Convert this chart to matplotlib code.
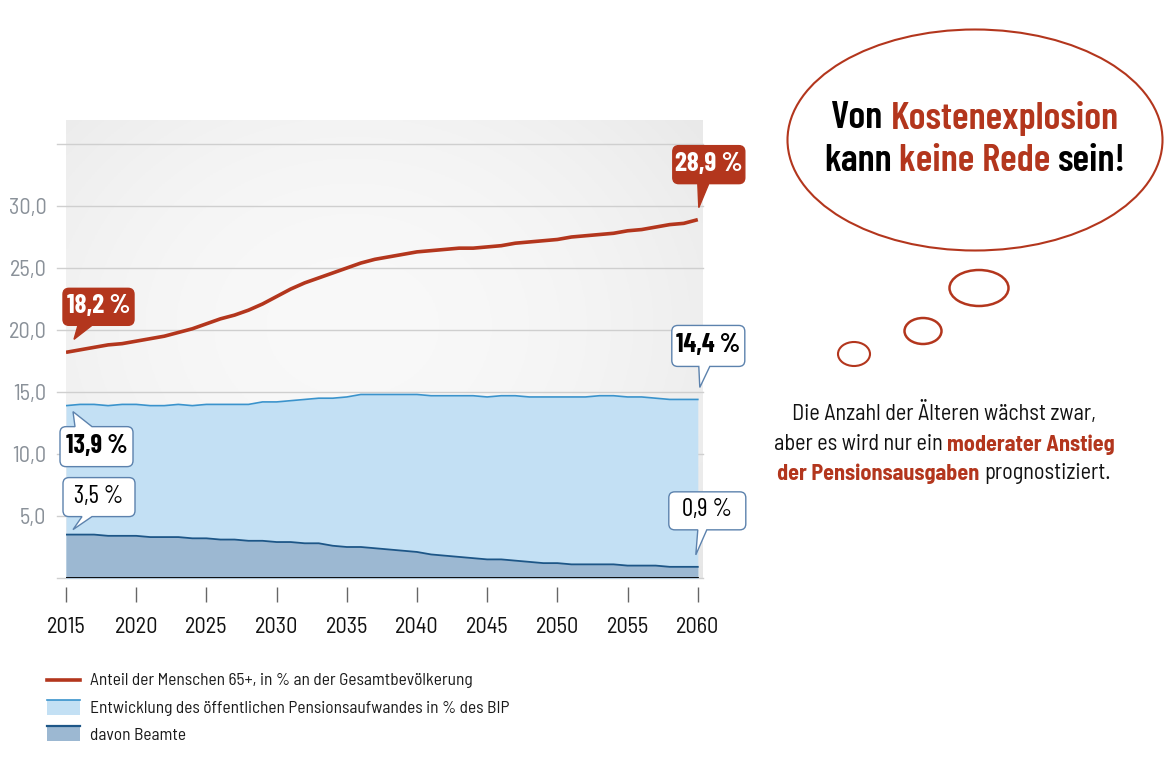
import numpy as np
import matplotlib
matplotlib.use("Agg")
import matplotlib.pyplot as plt
from matplotlib.path import Path
from matplotlib.patches import PathPatch, Ellipse, Rectangle
from matplotlib.lines import Line2D
from matplotlib.transforms import IdentityTransform


# -------------------------
# DATA
# -------------------------
years = list(range(2015, 2061))

anteil_65plus = [18.2, 18.4, 18.6, 18.8, 18.9, 19.1, 19.3, 19.5, 19.8, 20.1,
                 20.5, 20.9, 21.2, 21.6, 22.1, 22.7, 23.3, 23.8, 24.2, 24.6,
                 25.0, 25.4, 25.7, 25.9, 26.1, 26.3, 26.4, 26.5, 26.6, 26.6,
                 26.7, 26.8, 27.0, 27.1, 27.2, 27.3, 27.5, 27.6, 27.7, 27.8,
                 28.0, 28.1, 28.3, 28.5, 28.6, 28.9]

pension_bip = [13.9, 14.0, 14.0, 13.9, 14.0, 14.0, 13.9, 13.9, 14.0, 13.9,
               14.0, 14.0, 14.0, 14.0, 14.2, 14.2, 14.3, 14.4, 14.5, 14.5,
               14.6, 14.8, 14.8, 14.8, 14.8, 14.8, 14.7, 14.7, 14.7, 14.7,
               14.6, 14.7, 14.7, 14.6, 14.6, 14.6, 14.6, 14.6, 14.7, 14.7,
               14.6, 14.6, 14.5, 14.4, 14.4, 14.4]

beamte = [3.5, 3.5, 3.5, 3.4, 3.4, 3.4, 3.3, 3.3, 3.3, 3.2,
          3.2, 3.1, 3.1, 3.0, 3.0, 2.9, 2.9, 2.8, 2.8, 2.6,
          2.5, 2.5, 2.4, 2.3, 2.2, 2.1, 1.9, 1.8, 1.7, 1.6,
          1.5, 1.5, 1.4, 1.3, 1.2, 1.2, 1.1, 1.1, 1.1, 1.1,
          1.0, 1.0, 1.0, 0.9, 0.9, 0.9]

x_ticks = [2015, 2020, 2025, 2030, 2035, 2040, 2045, 2050, 2055, 2060]
y_ticks = [5, 10, 15, 20, 25, 30]
y_tick_labels = ["5,0", "10,0", "15,0", "20,0", "25,0", "30,0"]
grid_levels = [0, 5, 10, 15, 20, 25, 30, 35]

legend_labels = [
    "Anteil der Menschen 65+, in % an der Gesamtbevölkerung",
    "Entwicklung des öffentlichen Pensionsaufwandes in % des BIP",
    "davon Beamte",
]

RED = "#b3361d"
LIGHT = "#c3e0f4"
LIGHT_LINE = "#3a93cc"
DARK = "#9cb8d2"
DARK_LINE = "#1d5687"
BOX_EDGE = "#5c82ad"

COND = ["Barlow Condensed", "DejaVu Sans"]
SEMI = ["Barlow Semi Condensed", "Barlow Condensed", "DejaVu Sans"]
plt.rcParams["font.family"] = SEMI

W, H = 1172, 764
fig = plt.figure(figsize=(W / 100, H / 100), dpi=100)

# axes area in pixels (x: 66..703, y: 120..578)
ax = fig.add_axes([66 / W, (H - 578) / H, 637 / W, 458 / H])
x0_lim, x1_lim = 2015, 2015 + 637 / 14.04
y_top = 458 / 12.4

# -------------------------
# BACKGROUND GRADIENT
# -------------------------
gx, gy = np.meshgrid(np.linspace(0, 1, 200), np.linspace(0, 1, 200))
d = np.sqrt(((gx - 0.45) / 0.8) ** 2 + ((gy - 0.45) / 0.9) ** 2)
g = 0.975 - 0.085 * d ** 2
ax.imshow(np.dstack([g, g, g]), extent=[x0_lim, x1_lim, 0, y_top],
          aspect="auto", zorder=0, origin="upper")

# grid lines (reach a bit to the left of the plot)
for lev in grid_levels:
    ax.axhline(lev, xmin=-9 / 637, xmax=1, color="#cfcfcf", lw=1,
               zorder=1, clip_on=False)

# -------------------------
# SERIES
# -------------------------
ax.fill_between(years, 0, pension_bip, color=LIGHT, lw=0, zorder=2)
ax.plot(years, pension_bip, color=LIGHT_LINE, lw=1.2, zorder=3)
ax.fill_between(years, 0, beamte, color=DARK, lw=0, zorder=3)
ax.plot(years, beamte, color=DARK_LINE, lw=1.3, zorder=4)
ax.plot(years, anteil_65plus, color=RED, lw=2.6, zorder=6,
        solid_capstyle="butt")
ax.plot([years[0], years[-1]], [0, 0], color="black", lw=1.3, zorder=5)

ax.set_xlim(x0_lim, x1_lim)
ax.set_ylim(0, y_top)
for s in ax.spines.values():
    s.set_visible(False)

ax.set_yticks(y_ticks)
ax.set_yticklabels(y_tick_labels)
ax.tick_params(axis="y", length=0, pad=14, labelsize=16, labelcolor="#8a9199")
ax.set_xticks(x_ticks)
ax.set_xticklabels([str(v) for v in x_ticks])
ax.tick_params(axis="x", length=0, pad=28, labelsize=16, labelcolor="#111111")
ax.vlines(x_ticks, -0.75, -1.95, color="#666666", lw=1, clip_on=False)

fig.canvas.draw()
to_px = ax.transData


# -------------------------
# CALLOUTS
# -------------------------
def callout_path(bx0, by0, bx1, by1, r, side, ba, bb, tip):
    v, c = [], []

    def mv(p):
        v.append(p); c.append(Path.MOVETO)

    def ln(p):
        v.append(p); c.append(Path.LINETO)

    def cv(ctrl, end):
        v.extend([ctrl, end]); c.extend([Path.CURVE3, Path.CURVE3])

    mv((bx0 + r, by0))
    if side == "top":
        ln((ba, by0)); ln(tip); ln((bb, by0))
    ln((bx1 - r, by0)); cv((bx1, by0), (bx1, by0 + r))
    ln((bx1, by1 - r)); cv((bx1, by1), (bx1 - r, by1))
    if side == "bottom":
        ln((bb, by1)); ln(tip); ln((ba, by1))
    ln((bx0 + r, by1)); cv((bx0, by1), (bx0, by1 - r))
    ln((bx0, by0 + r)); cv((bx0, by0), (bx0 + r, by0))
    v.append((bx0 + r, by0)); c.append(Path.CLOSEPOLY)
    return Path([(x, H - y) for x, y in v], c)


def callout(year, value, label, tip_off, box, side, base, face, edge,
            tcolor, weight, size):
    px, py = to_px.transform((year, value))
    px, py = px, H - py  # image coords, y down
    tx, ty = px + tip_off[0], py + tip_off[1]
    bx0, by0, bx1, by1 = tx + box[0], ty + box[1], tx + box[2], ty + box[3]
    path = callout_path(bx0, by0, bx1, by1, 6, side, tx + base[0],
                        tx + base[1], (tx, ty))
    fig.patches.append(PathPatch(path, facecolor=face, edgecolor=edge,
                                 lw=1, transform=IdentityTransform(),
                                 zorder=10))
    fig.text((bx0 + bx1) / 2, H - (by0 + by1) / 2 + 1, label, color=tcolor,
             fontsize=size, fontweight=weight, ha="center", va="center",
             family=COND, transform=IdentityTransform(), zorder=11)


callout(years[0], anteil_65plus[0], "18,2 %", (8, -13), (-11, -51, 60, -14),
        "bottom", (4, 18), RED, RED, "white", "bold", 19.5)
callout(years[-1], anteil_65plus[-1], "28,9 %", (1, -12), (-26, -62, 46, -24),
        "bottom", (-1, 10), RED, RED, "white", "bold", 19.5)
callout(years[-1], pension_bip[-1], "14,4 %", (2, -12), (-28, -62, 45, -21),
        "bottom", (-1, 10), "white", BOX_EDGE, "black", "bold", 19)
callout(years[0], pension_bip[0], "13,9 %", (7, 6), (-13, 15, 60, 55),
        "top", (2, 19), "white", BOX_EDGE, "black", "bold", 19)
callout(years[0], beamte[0], "3,5 %", (7, -5), (-10, -52, 62, -13),
        "bottom", (9, 19), "white", BOX_EDGE, "black", "normal", 18)
callout(years[-1], beamte[-1], "0,9 %", (-2, -12), (-27, -63, 50, -25),
        "bottom", (2, 11), "white", BOX_EDGE, "black", "normal", 18)


# -------------------------
# THOUGHT BUBBLE
# -------------------------
for (cx, cy, ew, eh, lw) in [(975, 140, 375, 221, 1.5), (979, 288, 59, 36, 1.8),
                             (923, 331, 37, 26, 1.8), (854, 354, 32, 24, 1.5)]:
    fig.patches.append(Ellipse((cx / W, 1 - cy / H), ew / W, eh / H,
                               facecolor="none", edgecolor=RED, lw=lw,
                               transform=fig.transFigure))

renderer = fig.canvas.get_renderer()


def rich_line(cx, cy, parts, size, family):
    texts = [fig.text(0, 0, s, color=col, fontsize=size, fontweight=w,
                      family=family, ha="left", va="center",
                      transform=IdentityTransform())
             for s, col, w in parts]
    a = fig.text(0, 0, "n n", fontsize=size, fontweight=parts[0][2], family=family)
    b = fig.text(0, 0, "nn", fontsize=size, fontweight=parts[0][2], family=family)
    space = a.get_window_extent(renderer).width - b.get_window_extent(renderer).width
    a.remove(); b.remove()
    widths = [t.get_window_extent(renderer).width for t in texts]
    x = cx - (sum(widths) + space * (len(texts) - 1)) / 2
    for t, w in zip(texts, widths):
        t.set_position((x, H - cy))
        x += w + space


rich_line(975, 118, [("Von", "black", 600), ("Kostenexplosion", RED, 600)], 28, COND)
rich_line(975, 161, [("kann", "black", 600), ("keine Rede", RED, 600),
                     ("sein!", "black", 600)], 28, COND)

rich_line(944, 413, [("Die Anzahl der Älteren wächst zwar,", "#111111", "normal")], 16, SEMI)
rich_line(944, 445, [("aber es wird nur ein", "#111111", "normal"),
                     ("moderater Anstieg", RED, "bold")], 16, SEMI)
rich_line(944, 474, [("der Pensionsausgaben", RED, "bold"),
                     ("prognostiziert.", "#111111", "normal")], 16, SEMI)


# -------------------------
# LEGEND
# -------------------------
def fx(x):
    return x / W


def fy(y):
    return 1 - y / H


fig.lines.append(Line2D([fx(47), fx(80)], [fy(680), fy(680)], color=RED,
                        lw=2.6, transform=fig.transFigure))
fig.patches.append(Rectangle((fx(47), fy(715)), fx(80) - fx(47), fy(700) - fy(715),
                             facecolor=LIGHT, lw=0, transform=fig.transFigure))
fig.lines.append(Line2D([fx(47), fx(80)], [fy(700), fy(700)], color=LIGHT_LINE,
                        lw=1.2, transform=fig.transFigure))
fig.patches.append(Rectangle((fx(47), fy(741)), fx(80) - fx(47), fy(726) - fy(741),
                             facecolor=DARK, lw=0, transform=fig.transFigure))
fig.lines.append(Line2D([fx(47), fx(80)], [fy(726), fy(726)], color=DARK_LINE,
                        lw=1.6, transform=fig.transFigure))

for lab, y in zip(legend_labels, [680, 708, 735]):
    fig.text(fx(90), fy(y), lab, fontsize=12.5, color="#1a1a1a",
             ha="left", va="center")

fig.savefig("out.png", dpi=100, facecolor="white")
